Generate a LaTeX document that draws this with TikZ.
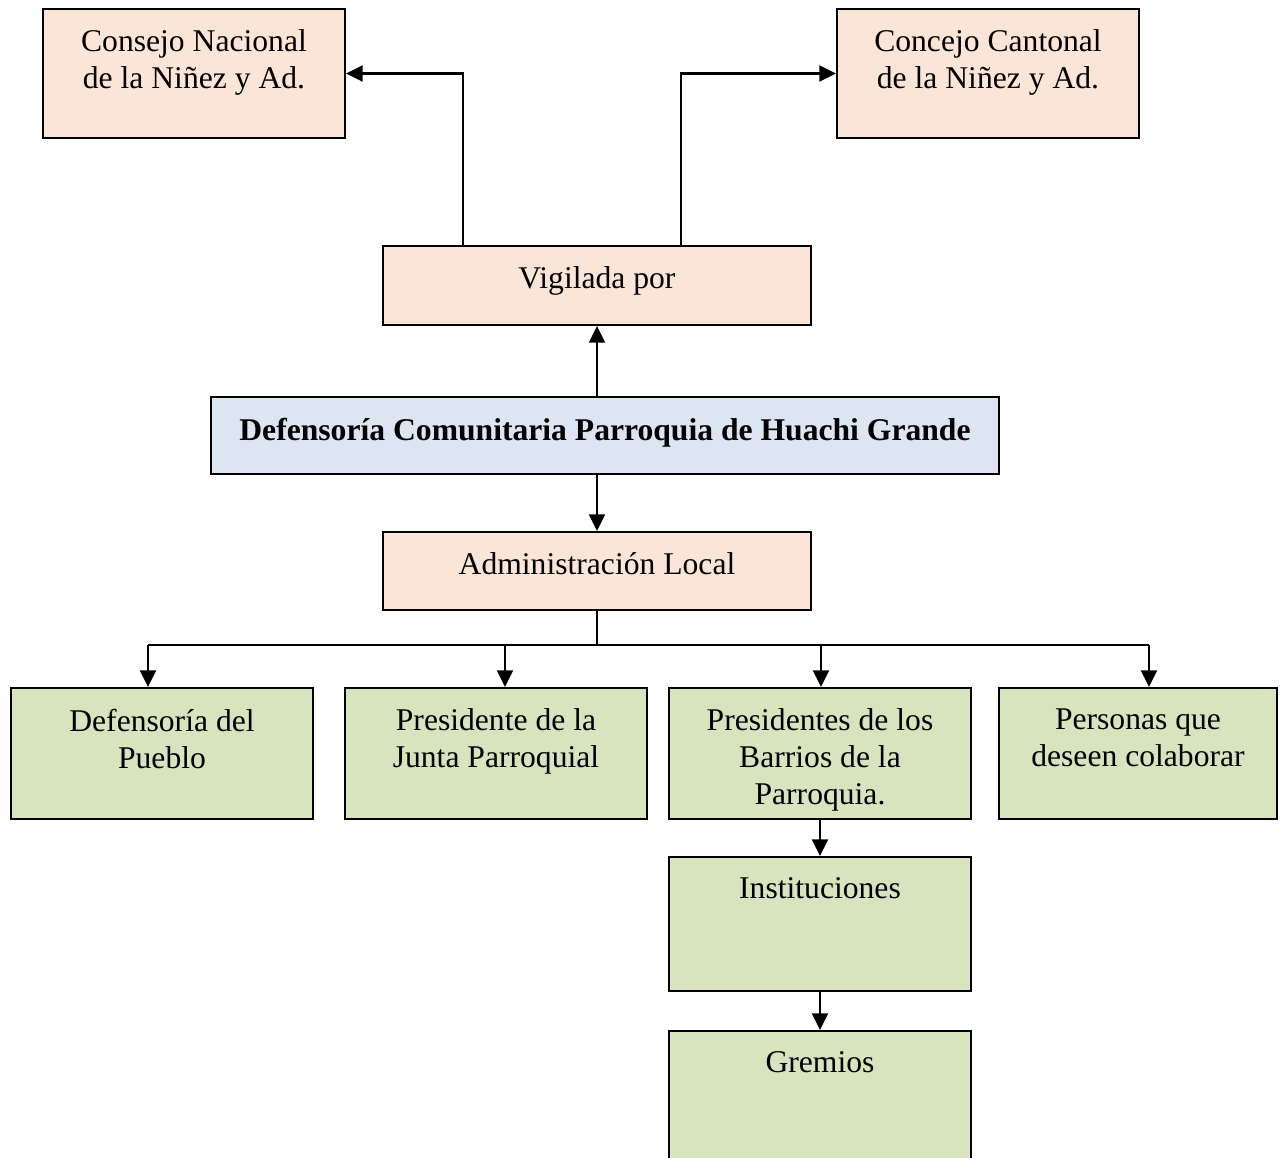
\documentclass[tikz,border=0pt]{standalone}
\usepackage{fontspec}
\setmainfont{Liberation Serif}
\usetikzlibrary{positioning,arrows.meta}

\definecolor{durazno}{HTML}{FBE5D6}
\definecolor{celeste}{HTML}{DCE6F2}
\definecolor{oliva}{HTML}{D7E4BD}

\tikzset{
  caja/.style={draw, line width=1.1pt, inner sep=0pt, minimum width=6.04cm, minimum height=2.6cm},
  texto/.style={align=center, inner sep=0pt, font=\fontsize{18}{21}\selectfont},
  flecha/.style={line width=1.5pt, -{Triangle[length=9.5pt,width=9pt]}},
  linea/.style={line width=1.5pt},
}

\begin{document}
\begin{tikzpicture}[x=0.02cm, y=-0.02cm]
        \clip (0,0) rectangle (1286,1158);

        % Paso 1: Consejos arriba
        \node[caja, fill=durazno, minimum height=2.58cm] (nac) at (194,73.5) {};
        \node[texto, below=0.43cm of nac.north] (nacT) {Consejo Nacional\\de la Niñez y Ad.};
        \node[caja, fill=durazno, minimum height=2.58cm] (can) at (988,73.5) {};
        \node[texto, below=0.43cm of can.north] (canT) {Concejo Cantonal\\de la Niñez y Ad.};

        % Paso 2: Vigilada por
        \node[caja, fill=durazno, minimum width=8.56cm, minimum height=1.58cm] (vig) at (597,285.5) {};
        \node[texto, below=0.43cm of vig.north] (vigT) {Vigilada por};

        % Paso 3: Defensoría (caja central)
        \node[caja, fill=celeste, minimum width=15.76cm, minimum height=1.54cm] (def) at (605,435.5) {};
        \node[texto, below=0.43cm of def.north, font=\fontsize{18}{21}\selectfont\bfseries] (defT)
            {Defensoría Comunitaria Parroquia de Huachi Grande};

        % Paso 4: Administración Local
        \node[caja, fill=durazno, minimum width=8.56cm, minimum height=1.56cm] (adm) at (597,571) {};
        \node[texto, below=0.43cm of adm.north] (admT) {Administración Local};

        % Paso 5: Fila de cajas verdes
        \node[caja, fill=oliva, minimum height=2.62cm] (pue) at (162,753.5) {};
        \node[texto, below=0.43cm of pue.north] (pueT) {Defensoría del\\Pueblo};
        \node[caja, fill=oliva, minimum height=2.62cm] (jun) at (496,753.5) {};
        \node[texto, below=0.43cm of jun.north] (junT) {Presidente de la\\Junta Parroquial};
        \node[caja, fill=oliva, minimum height=2.62cm] (bar) at (820,753.5) {};
        \node[texto, below=0.43cm of bar.north] (barT) {Presidentes de los\\Barrios de la\\Parroquia.};
        \node[caja, fill=oliva, minimum width=5.56cm, minimum height=2.62cm] (per) at (1138,753.5) {};
        \node[texto, below=0.43cm of per.north] (perT) {Personas que\\deseen colaborar};

        % Paso 6: Instituciones y Gremios
        \node[caja, fill=oliva, minimum height=2.68cm] (ins) at (820,924) {};
        \node[texto, below=0.43cm of ins.north] (insT) {Instituciones};
        \node[caja, fill=oliva, minimum height=3.2cm] (gre) at (820,1111) {};
        \node[texto, below=0.43cm of gre.north] (greT) {Gremios};

        % Paso 7: Flechas de arriba
        \draw[flecha] ([xshift=-2.68cm]vig.north) |- (nac.east);
        \draw[flecha] ([xshift=1.68cm]vig.north) |- (can.west);
        \draw[flecha] (def.north -| vig.south) -- (vig.south);
        \draw[flecha] (def.south -| adm.north) -- (adm.north);

        % Paso 8: Reparto hacia la fila verde
        \foreach \c/\n [count=\i] in {148/pue, 505/jun, 821/bar, 1149/per}{
            \coordinate (b\i) at (\c,645);
            \draw[flecha] (b\i) -- (b\i |- \n.north);
        }
        \draw[linea] (adm.south) -- (adm.south |- b1);
        \draw[linea] (b1) -- (b4);

        % Paso 9: Flechas de abajo
        \draw[flecha] (bar.south) -- (ins.north);
        \draw[flecha] (ins.south) -- (gre.north);
\end{tikzpicture}
\end{document}
